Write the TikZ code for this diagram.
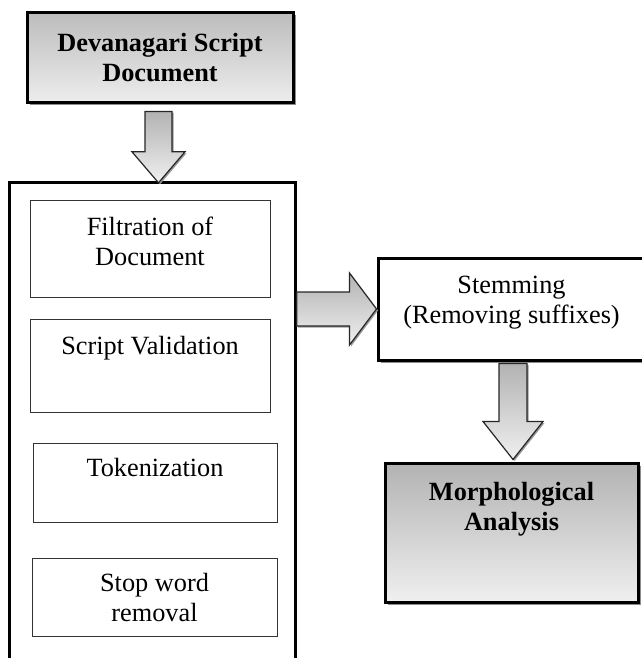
\documentclass[tikz,border=0pt]{standalone}
\usepackage{fontspec}
\setmainfont{Liberation Serif}
\usetikzlibrary{calc,shadows}
\tikzset{
  thickbox/.style={draw=black, line width=3pt, inner sep=0pt},
  thinbox/.style={draw=black!80, line width=0.9pt, inner sep=0pt, fill=white},
  grayfill/.style={top color=black!26, bottom color=black!7},
  boxshadow/.style={drop shadow={shadow xshift=2.5pt, shadow yshift=-2.5pt, fill=black!45, opacity=1}},
  arrowshadow/.style={drop shadow={shadow xshift=1.5pt, shadow yshift=-1.5pt, fill=black!40, opacity=1}},
  lbl/.style={font=\fontsize{26.3}{30}\selectfont, align=center, inner sep=0pt, anchor=base},
  boldlbl/.style={lbl, font=\fontsize{26.3}{30}\selectfont\bfseries},
  blockarrow/.style={draw=black!85, line width=1.2pt, top color=black!30, bottom color=black!6, line join=miter, arrowshadow},
}
% vertical block arrow: #1 start, #2 tip, #3 half shaft, #4 half head, #5 head length
\newcommand\vblockarrow[5]{%
  \draw[blockarrow] let \p1=(#1), \p2=(#2) in
    (\x2-#3,\y1) -- (\x2+#3,\y1) -- (\x2+#3,\y2+#5) -- (\x2+#4,\y2+#5) -- (\x2,\y2)
    -- (\x2-#4,\y2+#5) -- (\x2-#3,\y2+#5) -- cycle;}
% horizontal block arrow
\newcommand\hblockarrow[5]{%
  \draw[blockarrow] let \p1=(#1), \p2=(#2) in
    (\x1,\y2+#3) -- (\x2-#5,\y2+#3) -- (\x2-#5,\y2+#4) -- (\x2,\y2)
    -- (\x2-#5,\y2-#4) -- (\x2-#5,\y2-#3) -- (\x1,\y2-#3) -- cycle;}
\begin{document}
\begin{tikzpicture}[x=1pt, y=-1pt]
\useasboundingbox (0,0) rectangle (641,658);
\coordinate (pagebottom) at (0,658);

% source document
\node[thickbox, grayfill, boxshadow, minimum width=266pt, minimum height=90pt] (src) at (160,58) {};
\node[boldlbl] (src-t) at ($(src.north)+(0,70)$) {Devanagari Script\\Document};

% preprocessing container (open at the bottom)
\node[inner sep=0pt, minimum width=285pt, minimum height=490pt] (proc) at (152.5,428) {};
\draw[line width=3pt] (proc.west |- pagebottom) -- (proc.north west) -- (proc.north east) -- (proc.east |- pagebottom);

% inner steps
\node[thinbox, minimum width=240pt, minimum height=97pt] (filt) at (150,248.5) {};
\node[lbl] (filt-t) at ($(filt.north)+(0,66)$) {Filtration of\\Document};
\node[thinbox, minimum width=240pt, minimum height=93pt] (valid) at (150,365.5) {};
\node[lbl] (valid-t) at ($(valid.north)+(0,36)$) {Script Validation};
\node[thinbox, minimum width=244pt, minimum height=79pt] (tok) at (155,482.5) {};
\node[lbl] (tok-t) at ($(tok.north)+(0,34)$) {Tokenization};
\node[thinbox, minimum width=245pt, minimum height=78pt] (stop) at (154.5,597) {};
\node[lbl] (stop-t) at ($(stop.north)+(0,64)$) {Stop word\\removal};

% stemming
\node[thickbox, fill=white, boxshadow, minimum width=267pt, minimum height=102pt] (stem) at (511.5,309) {};
\node[lbl] (stem-t) at ($(stem.north)+(0,67)$) {Stemming\\(Removing suffixes)};

% morphological analysis
\node[thickbox, top color=black!30, bottom color=black!6, boxshadow, minimum width=253pt, minimum height=139pt] (morph) at (511.5,532.5) {};
\node[boldlbl] (morph-t) at ($(morph.north)+(0,69)$) {Morphological\\Analysis};

% block arrows
\coordinate (a1s) at ($(src.south)+(-1.5,7)$);
\coordinate (a1t) at ($(src.south |- proc.north)+(-1.5,0)$);
\vblockarrow{a1s}{a1t}{13.5pt}{26.5pt}{31pt}
\coordinate (a2s) at ($(proc.north east)+(1.5,0)$);
\hblockarrow{a2s}{stem.west}{17pt}{36pt}{27pt}
\coordinate (a3s) at ($(stem.south)+(1.5,2)$);
\coordinate (a3t) at ($(morph.north)+(1.5,-2)$);
\vblockarrow{a3s}{a3t}{14pt}{30pt}{38pt}
\end{tikzpicture}
\end{document}
